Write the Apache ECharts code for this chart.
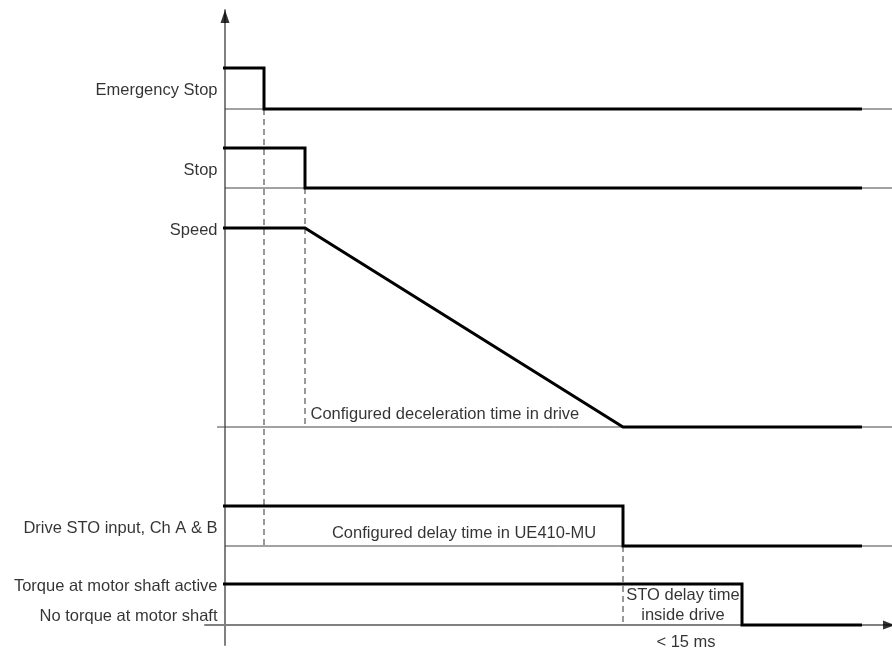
<!DOCTYPE html>
<html>
<head>
<meta charset="utf-8">
<script src="https://cdn.jsdelivr.net/npm/echarts@6/dist/echarts.min.js"></script>
<style>
html,body{margin:0;padding:0;background:#fff;}
#chart{width:892px;height:651px;}
</style>
</head>
<body>
<div id="chart"></div>
<script>
// ---- Data (time in arbitrary units, states 1 = high / 0 = low) ----
const signalNames = ["Emergency Stop", "Stop", "Speed", "Drive STO input, Ch A & B", "Torque at motor shaft active"];
const lowLabelTorque = "No torque at motor shaft";

const eStopTimes  = [-2, 39, 39, 637];
const eStopStates = [1, 1, 0, 0];
const stopTimes   = [-2, 80, 80, 637];
const stopStates  = [1, 1, 0, 0];
const speedTimes  = [-2, 80, 398, 637];
const speedStates = [1, 1, 0, 0];
const stoTimes    = [-2, 398, 398, 637];
const stoStates   = [1, 1, 0, 0];
const torqueTimes = [-2, 517, 517, 637];
const torqueStates= [1, 1, 0, 0];

const eventTimes = [39, 80, 398]; // dashed markers: E-stop, Stop, STO switch-off
const annotationTexts = [
  "Configured deceleration time in drive",
  "Configured delay time in UE410-MU",
  "STO delay time",
  "inside drive",
  "< 15 ms"
];

// ---- Layout (row placement on the level axis) ----
const rows = {
  eStop:  {base: 516, height: 41},
  stop:   {base: 437, height: 40},
  speed:  {base: 198, height: 199},
  sto:    {base: 79,  height: 40},
  torque: {base: 0,   height: 41}
};
const FONT = "'Liberation Sans', Arial, sans-serif";

function sig(times, states, row) {
  return times.map((t, i) => [t, row.base + states[i] * row.height]);
}
function thick(name, data) {
  return {
    name, type: 'line', data, symbol: 'none', z: 5,
    lineStyle: {color: '#000', width: 3, cap: 'butt', join: 'miter'}
  };
}
function thin(data) {
  return {
    type: 'line', data, symbol: 'none', z: 3,
    lineStyle: {color: '#444', width: 1}
  };
}
function dashed(data) {
  return {
    type: 'line', data, symbol: 'none', z: 2,
    lineStyle: {color: '#333', width: 1, type: [6, 4]}
  };
}
function textPoint(x, y, text, pos, extra) {
  return {
    value: [x, y],
    label: Object.assign({
      show: true, formatter: text, position: pos, distance: 7, offset: [0, 2],
      color: '#000', fontSize: 16.5, fontFamily: FONT
    }, extra || {})
  };
}

const tEnd = 667;
const series = [
  thick('eStop', sig(eStopTimes, eStopStates, rows.eStop)),
  thick('stop', sig(stopTimes, stopStates, rows.stop)),
  thick('speed', sig(speedTimes, speedStates, rows.speed)),
  thick('sto', sig(stoTimes, stoStates, rows.sto)),
  thick('torque', sig(torqueTimes, torqueStates, rows.torque)),
  thin([[0, rows.eStop.base], [tEnd, rows.eStop.base]]),
  thin([[0, rows.stop.base], [tEnd, rows.stop.base]]),
  thin([[-8, rows.speed.base], [tEnd, rows.speed.base]]),
  thin([[0, rows.sto.base], [tEnd, rows.sto.base]]),
  dashed([[eventTimes[0], rows.eStop.base], [eventTimes[0], rows.sto.base]]),
  dashed([[eventTimes[1], rows.stop.base], [eventTimes[1], rows.speed.base]]),
  dashed([[eventTimes[2], rows.sto.base], [eventTimes[2], rows.torque.base]]),
  {
    type: 'scatter', symbolSize: 1, itemStyle: {color: 'transparent'}, z: 6,
    data: [
      textPoint(0, rows.eStop.base + rows.eStop.height / 2, signalNames[0], 'left'),
      textPoint(0, rows.stop.base + rows.stop.height / 2, signalNames[1], 'left'),
      textPoint(0, rows.speed.base + rows.speed.height, signalNames[2], 'left'),
      textPoint(0, rows.sto.base + rows.sto.height / 2, signalNames[3], 'left'),
      textPoint(0, rows.torque.base + rows.torque.height, signalNames[4], 'left'),
      textPoint(0, rows.torque.base + 11, lowLabelTorque, 'left'),
      textPoint(85, 213, annotationTexts[0], 'right', {distance: 0}),
      textPoint(239, 94, annotationTexts[1], 'inside'),
      textPoint(458, 32, annotationTexts[2], 'inside'),
      textPoint(458, 12, annotationTexts[3], 'inside'),
      textPoint(461, -15, annotationTexts[4], 'inside')
    ]
  },
  {
    type: 'scatter', symbol: 'triangle', z: 7,
    itemStyle: {color: '#000'},
    data: [
      {value: [0, 608.5], symbolSize: [9, 13]},
      {value: [664, 0], symbolSize: [9, 12], symbolRotate: -90}
    ]
  }
];

const chart = echarts.init(document.getElementById('chart'), null, {renderer: 'canvas'});
chart.setOption({
  animation: false,
  backgroundColor: '#fff',
  grid: {left: 205, right: 0, top: 10, bottom: 6},
  xAxis: {
    type: 'value', min: -20, max: 667,
    axisLine: {show: true, onZero: true, lineStyle: {color: '#808080', width: 2}},
    axisTick: {show: false}, axisLabel: {show: false}, splitLine: {show: false}
  },
  yAxis: {
    type: 'value', min: -20, max: 615,
    axisLine: {show: true, onZero: true, lineStyle: {color: '#808080', width: 2}},
    axisTick: {show: false}, axisLabel: {show: false}, splitLine: {show: false}
  },
  series
});
</script>
</body>
</html>
